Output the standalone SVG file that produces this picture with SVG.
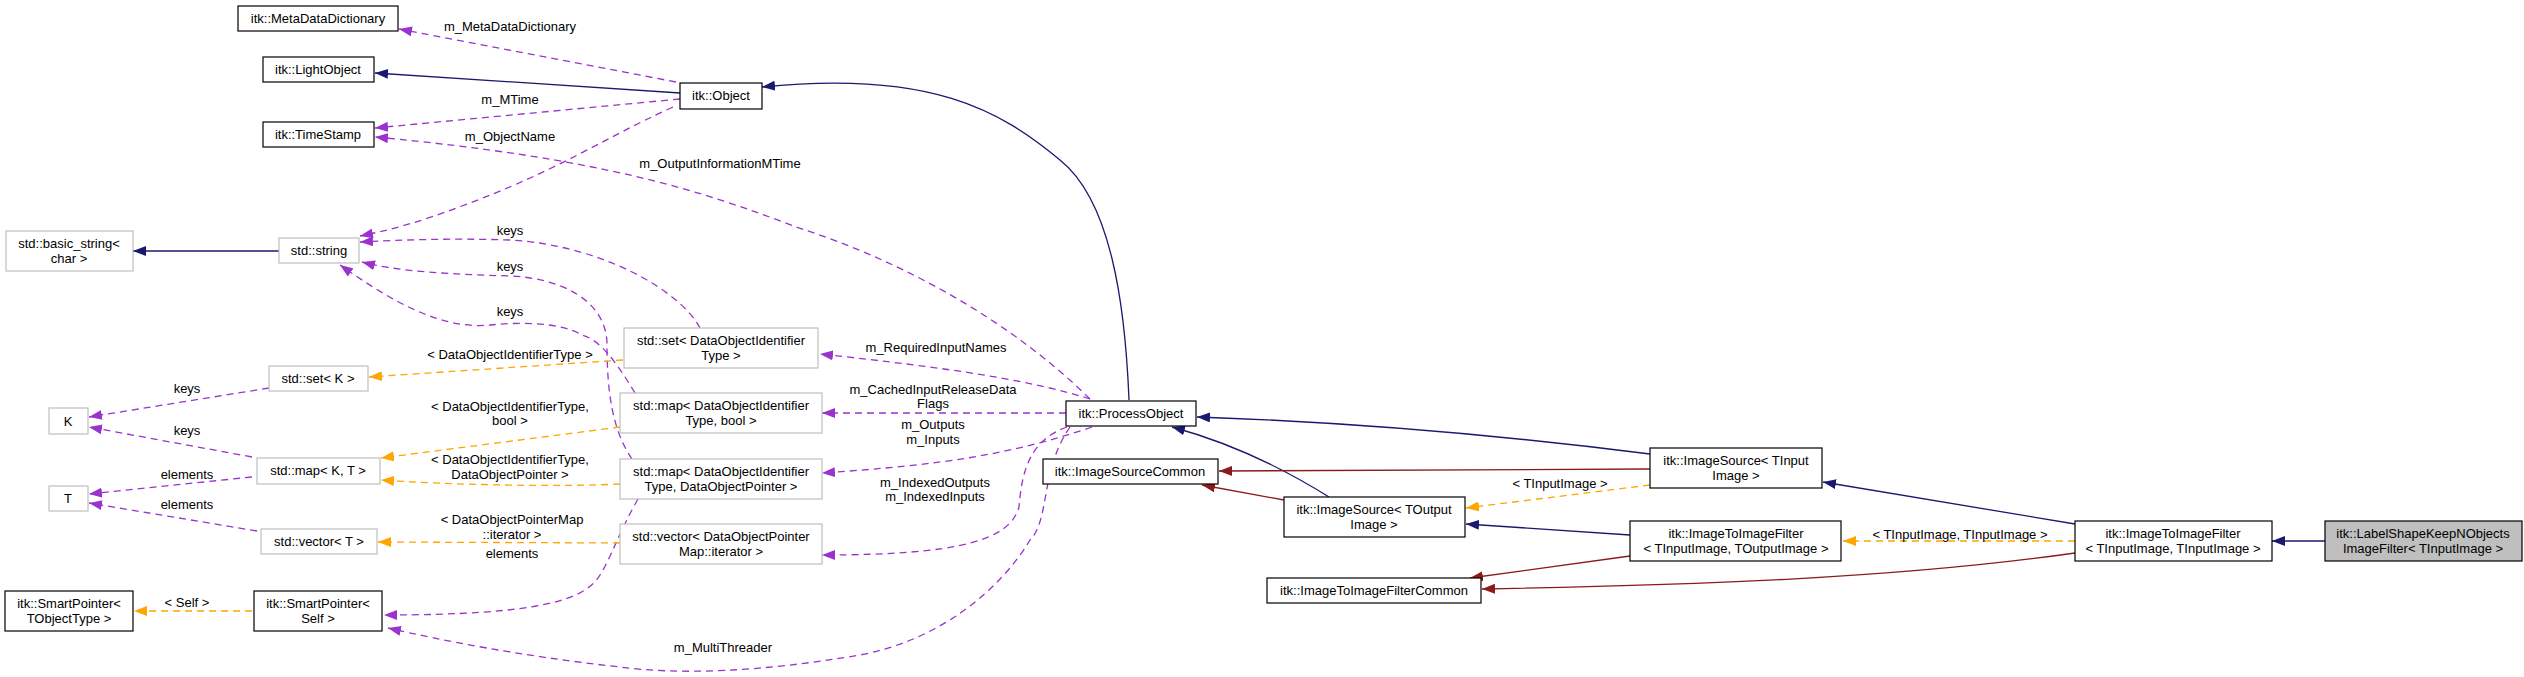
<svg xmlns="http://www.w3.org/2000/svg" width="2524" height="677" viewBox="0 0 2524 677">
<style>
text{font-family:"Liberation Sans",Arial,sans-serif;font-size:13px;fill:#000;text-anchor:middle}
.n{fill:#fff;stroke:#000;stroke-width:1.2}
.g{fill:#fff;stroke:#bfbfbf;stroke-width:1.2}
.cur{fill:#bfbfbf;stroke:#000;stroke-width:1.2}
.e{fill:none;stroke-width:1.3}
.b{stroke:#191970;marker-end:url(#mb)}
.r{stroke:#8b1a1a;marker-end:url(#mr)}
.p{stroke:#9a32cd;stroke-dasharray:7,5;marker-end:url(#mp)}
.o{stroke:#ffa500;stroke-dasharray:7,5;marker-end:url(#mo)}
</style>
<defs>
<marker id="mb" markerWidth="14" markerHeight="10" refX="13" refY="5" orient="auto" markerUnits="userSpaceOnUse"><path d="M0,0L13,5L0,10z" fill="#191970"/></marker>
<marker id="mr" markerWidth="14" markerHeight="10" refX="13" refY="5" orient="auto" markerUnits="userSpaceOnUse"><path d="M0,0L13,5L0,10z" fill="#8b1a1a"/></marker>
<marker id="mp" markerWidth="14" markerHeight="10" refX="13" refY="5" orient="auto" markerUnits="userSpaceOnUse"><path d="M0,0L13,5L0,10z" fill="#9a32cd"/></marker>
<marker id="mo" markerWidth="14" markerHeight="10" refX="13" refY="5" orient="auto" markerUnits="userSpaceOnUse"><path d="M0,0L13,5L0,10z" fill="#ffa500"/></marker>
</defs>
<g id="connectors">
<path class="e b" d="M680,93L375,73"/>
<path class="e p" d="M676,82L399,29"/>
<path class="e p" d="M680,99L375,128"/>
<path class="e p" d="M1090,399C1010,320 900,260 796,227C700,190 600,158 375,137"/>
<path class="e p" d="M673,107C600,140 560,170 459,207C420,222 390,230 360,236"/>
<path class="e b" d="M279,251L133,251"/>
<path class="e p" d="M700,328C680,290 600,245 510,240C450,238 400,240 360,242"/>
<path class="e p" d="M632,459C612,430 607,390 607,345C607,300 560,278 510,276C450,274 400,272 362,262"/>
<path class="e p" d="M635,393C615,360 600,340 582,335C560,322 520,322 490,325C440,330 390,300 340,265"/>
<path class="e p" d="M638,499C620,530 610,560 600,575C585,600 540,615 384,615"/>
<path class="e o" d="M623,360L369,377"/>
<path class="e o" d="M620,427L381,458"/>
<path class="e o" d="M620,484C560,487 450,485 381,480"/>
<path class="e o" d="M620,543L378,542"/>
<path class="e p" d="M269,388L89,417"/>
<path class="e p" d="M252,457L89,427"/>
<path class="e p" d="M252,477L89,494"/>
<path class="e p" d="M257,531L89,503"/>
<path class="e o" d="M252,611L134,611"/>
<path class="e p" d="M1070,427C1040,470 1050,520 1030,540C1000,590 940,640 860,655C760,672 680,675 620,667C520,656 440,640 388,628"/>
<path class="e p" d="M1090,399C1030,380 950,368 820,354"/>
<path class="e p" d="M1066,413L822,413"/>
<path class="e p" d="M1092,427C1010,455 940,465 822,473"/>
<path class="e p" d="M1067,427C1030,440 1022,470 1019,507C1010,540 960,555 822,555"/>
<path class="e b" d="M1129,400C1125,300 1110,200 1060,160C1000,110 930,70 762,87"/>
<path class="e b" d="M1650,454C1500,435 1350,422 1197,417"/>
<path class="e b" d="M1329,497C1270,460 1220,440 1172,427"/>
<path class="e r" d="M1650,469L1219,471"/>
<path class="e r" d="M1284,500L1202,485"/>
<path class="e o" d="M1650,485L1466,508"/>
<path class="e b" d="M1630,535L1466,524"/>
<path class="e r" d="M1630,556L1470,578"/>
<path class="e b" d="M2075,524L1823,482"/>
<path class="e o" d="M2075,541L1843,541"/>
<path class="e r" d="M2075,553C1900,578 1700,585 1482,589"/>
<path class="e b" d="M2325,541L2272,541"/>
</g>
<g id="labels">
<text x="510" y="31">m_MetaDataDictionary</text>
<text x="510" y="104">m_MTime</text>
<text x="510" y="141">m_ObjectName</text>
<text x="720" y="168">m_OutputInformationMTime</text>
<text x="510" y="235">keys</text>
<text x="510" y="271">keys</text>
<text x="510" y="316">keys</text>
<text x="510" y="359">&lt; DataObjectIdentifierType &gt;</text>
<text x="510" y="411">&lt; DataObjectIdentifierType,</text>
<text x="510" y="425">bool &gt;</text>
<text x="510" y="464">&lt; DataObjectIdentifierType,</text>
<text x="510" y="479">DataObjectPointer &gt;</text>
<text x="512" y="524">&lt; DataObjectPointerMap</text>
<text x="512" y="539">::iterator &gt;</text>
<text x="512" y="558">elements</text>
<text x="187" y="393">keys</text>
<text x="187" y="435">keys</text>
<text x="187" y="479">elements</text>
<text x="187" y="509">elements</text>
<text x="187" y="607">&lt; Self &gt;</text>
<text x="723" y="652">m_MultiThreader</text>
<text x="936" y="352">m_RequiredInputNames</text>
<text x="933" y="394">m_CachedInputReleaseData</text>
<text x="933" y="408">Flags</text>
<text x="933" y="429">m_Outputs</text>
<text x="933" y="444">m_Inputs</text>
<text x="935" y="487">m_IndexedOutputs</text>
<text x="935" y="501">m_IndexedInputs</text>
<text x="1560" y="488">&lt; TInputImage &gt;</text>
<text x="1960" y="539">&lt; TInputImage, TInputImage &gt;</text>
</g>
<g id="MetaDataDictionary"><rect class="n" x="238" y="6" width="160" height="25"/><text x="318" y="23">itk::MetaDataDictionary</text></g>
<g id="LightObject"><rect class="n" x="263" y="57" width="111" height="25"/><text x="318" y="74">itk::LightObject</text></g>
<g id="TimeStamp"><rect class="n" x="263" y="122" width="111" height="25"/><text x="318" y="139">itk::TimeStamp</text></g>
<g id="Object"><rect class="n" x="680" y="83" width="82" height="26"/><text x="721" y="100">itk::Object</text></g>
<g id="basic_string"><rect class="g" x="6" y="231" width="127" height="40"/><text x="69" y="248">std::basic_string&lt;</text><text x="69" y="263">char &gt;</text></g>
<g id="string"><rect class="g" x="279" y="238" width="80" height="25"/><text x="319" y="255">std::string</text></g>
<g id="setK"><rect class="g" x="269" y="366" width="99" height="25"/><text x="318" y="383">std::set&lt; K &gt;</text></g>
<g id="K"><rect class="g" x="49" y="408" width="39" height="26"/><text x="68" y="426">K</text></g>
<g id="mapKT"><rect class="g" x="257" y="458" width="123" height="26"/><text x="318" y="475">std::map&lt; K, T &gt;</text></g>
<g id="T"><rect class="g" x="49" y="486" width="39" height="25"/><text x="68" y="503">T</text></g>
<g id="vectorT"><rect class="g" x="261" y="529" width="116" height="25"/><text x="319" y="546">std::vector&lt; T &gt;</text></g>
<g id="SmartPointerT"><rect class="n" x="5" y="591" width="128" height="40"/><text x="69" y="608">itk::SmartPointer&lt;</text><text x="69" y="623">TObjectType &gt;</text></g>
<g id="SmartPointerSelf"><rect class="n" x="254" y="591" width="128" height="40"/><text x="318" y="608">itk::SmartPointer&lt;</text><text x="318" y="623">Self &gt;</text></g>
<g id="setDOIT"><rect class="g" x="624" y="328" width="194" height="40"/><text x="721" y="345">std::set&lt; DataObjectIdentifier</text><text x="721" y="360">Type &gt;</text></g>
<g id="mapDOITbool"><rect class="g" x="620" y="393" width="202" height="40"/><text x="721" y="410">std::map&lt; DataObjectIdentifier</text><text x="721" y="425">Type, bool &gt;</text></g>
<g id="mapDOITDOP"><rect class="g" x="620" y="459" width="202" height="40"/><text x="721" y="476">std::map&lt; DataObjectIdentifier</text><text x="721" y="491">Type, DataObjectPointer &gt;</text></g>
<g id="vectorDOPM"><rect class="g" x="620" y="524" width="202" height="40"/><text x="721" y="541">std::vector&lt; DataObjectPointer</text><text x="721" y="556">Map::iterator &gt;</text></g>
<g id="ProcessObject"><rect class="n" x="1066" y="401" width="130" height="25"/><text x="1131" y="418">itk::ProcessObject</text></g>
<g id="ImageSourceCommon"><rect class="n" x="1043" y="459" width="175" height="25"/><text x="1130" y="476">itk::ImageSourceCommon</text></g>
<g id="ImageSourceOut"><rect class="n" x="1284" y="497" width="181" height="40"/><text x="1374" y="514">itk::ImageSource&lt; TOutput</text><text x="1374" y="529">Image &gt;</text></g>
<g id="ImageSourceIn"><rect class="n" x="1650" y="448" width="172" height="40"/><text x="1736" y="465">itk::ImageSource&lt; TInput</text><text x="1736" y="480">Image &gt;</text></g>
<g id="ITIFCommon"><rect class="n" x="1267" y="578" width="214" height="25"/><text x="1374" y="595">itk::ImageToImageFilterCommon</text></g>
<g id="ITIFInOut"><rect class="n" x="1630" y="521" width="211" height="40"/><text x="1736" y="538">itk::ImageToImageFilter</text><text x="1736" y="553">&lt; TInputImage, TOutputImage &gt;</text></g>
<g id="ITIFInIn"><rect class="n" x="2075" y="521" width="197" height="40"/><text x="2173" y="538">itk::ImageToImageFilter</text><text x="2173" y="553">&lt; TInputImage, TInputImage &gt;</text></g>
<g id="LabelShape"><rect class="cur" x="2325" y="521" width="197" height="40"/><text x="2423" y="538">itk::LabelShapeKeepNObjects</text><text x="2423" y="553">ImageFilter&lt; TInputImage &gt;</text></g>
</svg>
